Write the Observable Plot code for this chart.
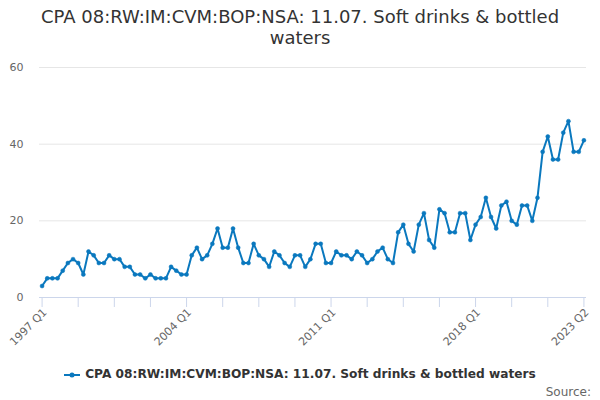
<!DOCTYPE html>
<html>
<head>
<meta charset="utf-8">
<script src="https://cdn.jsdelivr.net/npm/d3@7"></script>
<script src="https://cdn.jsdelivr.net/npm/@observablehq/plot@0.6"></script>
<style>
  html, body { margin: 0; padding: 0; background: #fff; }
  body { width: 600px; height: 400px; position: relative; overflow: hidden; font-family: "DejaVu Sans", sans-serif; }
  #title { position: absolute; top: 6px; left: 0; width: 600px; text-align: center; font-size: 18px; line-height: 21px; color: #333; }
  #chart { position: absolute; top: 55px; left: 0; }
  #legend { position: absolute; top: 367px; left: 0px; width: 600px; text-align: center; font-size: 12.2px; font-weight: bold; color: #333; }
  #legend svg { vertical-align: middle; margin-right: 5px; }
  #source { position: absolute; top: 385px; right: 9px; font-size: 12px; color: #666; }
</style>
</head>
<body>
<div id="title">CPA 08:RW:IM:CVM:BOP:NSA: 11.07. Soft drinks &amp; bottled<br>waters</div>
<div id="chart"></div>
<div id="legend"></div>
<div id="source">Source:</div>
<script>
const seriesName = "CPA 08:RW:IM:CVM:BOP:NSA: 11.07. Soft drinks & bottled waters";
const values = [
  3,5,5,5,7,9,10,9,6,12,11,9,9,11,10,10,8,8,6,6,5,6,5,5,5,8,7,6,6,
  11,13,10,11,14,18,13,13,18,13,9,9,14,11,10,8,12,11,9,8,11,11,8,10,14,14,9,
  9,12,11,11,10,12,11,9,10,12,13,10,9,17,19,14,12,19,22,15,13,23,22,17,17,22,
  22,15,19,21,26,21,18,24,25,20,19,24,24,20,26,38,42,36,36,43,46,38,38,41
];
const startYear = 1997;
const quarterLabels = values.map((_, i) => `${startYear + Math.floor(i / 4)} Q${(i % 4) + 1}`);
const yTicks = [0, 20, 40, 60];
const xTickIndex = [0,7,14,21,28,35,42,49,56,63,70,77,84,91,98,105];
const xLabelIndex = [0, 28, 56, 84, 105];

const data = values.map((v, i) => ({i, v, label: quarterLabels[i]}));
const color = "#0a78be";

const plot = Plot.plot({
  width: 600,
  height: 295,
  marginLeft: 39,
  marginRight: 14,
  marginTop: 12,
  marginBottom: 53,
  style: {fontFamily: "DejaVu Sans, sans-serif", background: "transparent", overflow: "visible"},
  x: {domain: [-0.5, 105.5], axis: null},
  y: {domain: [0, 60], axis: null},
  marks: [
    Plot.ruleY(yTicks.filter(d => d > 0), {stroke: "#e6e6e6", strokeWidth: 1}),
    Plot.text(yTicks, {x: -0.5, y: d => d, text: d => String(d), textAnchor: "end", dx: -16, fill: "#666", fontSize: 11}),
    Plot.ruleY([0], {stroke: "#ccd6eb", strokeWidth: 1}),
    Plot.ruleX(xTickIndex, {x: d => d, y1: 0, y2: 0, insetBottom: -10, stroke: "#ccd6eb"}),
    Plot.text(xLabelIndex, {x: d => d, y: 0, text: d => quarterLabels[d], rotate: -45, textAnchor: "end", dx: 3, dy: 13, fill: "#666", fontSize: 11}),
    Plot.line(data, {x: "i", y: "v", stroke: color, strokeWidth: 2}),
    Plot.dot(data, {x: "i", y: "v", r: 2, fill: color, stroke: color, strokeWidth: 0.5})
  ]
});
document.getElementById("chart").appendChild(plot);

const legend = document.getElementById("legend");
legend.innerHTML = `<svg width="16" height="10"><line x1="0" y1="5" x2="16" y2="5" stroke="${color}" stroke-width="2"></line><circle cx="8" cy="5" r="2.5" fill="${color}"></circle></svg>${seriesName.replace("&", "&amp;")}`;
</script>
</body>
</html>
